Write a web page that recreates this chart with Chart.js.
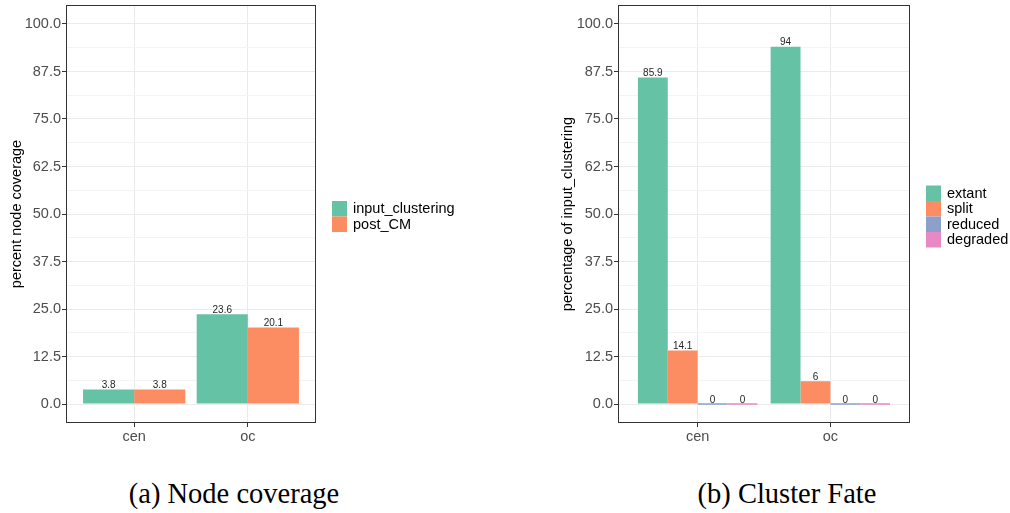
<!DOCTYPE html>
<html>
<head>
<meta charset="utf-8">
<script src="https://cdn.jsdelivr.net/npm/chart.js@4/dist/chart.umd.min.js"></script>
<style>
  body { margin: 0; background: #fff; }
  #wrap { position: relative; width: 1010px; height: 513px; background: #fff; overflow: hidden; }
  .box { position: absolute; top: 0; width: 505px; height: 460px; }
  .cap { position: absolute; top: 478px; width: 400px; text-align: center;
         font-family: "Liberation Serif", "Times New Roman", serif; font-size: 28.5px; line-height: 32px; color: #000; }
</style>
</head>
<body>
<div id="wrap">
  <div class="box" style="left:0"><canvas id="chart1" width="505" height="460"></canvas></div>
  <div class="box" style="left:505px"><canvas id="chart2" width="505" height="460"></canvas></div>
  <div class="cap" style="left:34px">(a) Node coverage</div>
  <div class="cap" style="left:587px">(b) Cluster Fate</div>
</div>
<script>
// data
const groups = ['cen', 'oc'];

const coverageNames = ['input_clustering', 'post_CM'];
const inputClustering = [3.8, 23.6];
const postCM = [3.8, 20.1];

const fateNames = ['extant', 'split', 'reduced', 'degraded'];
const extant = [85.9, 94];
const split = [14.1, 6];
const reduced = [0, 0];
const degraded = [0, 0];

const yBreaks = [0, 12.5, 25, 37.5, 50, 62.5, 75, 87.5, 100];

const set2 = ['#66C2A5', '#FC8D62', '#8DA0CB', '#E78AC3'];

Chart.defaults.font.family = '"Liberation Sans", Arial, sans-serif';

// major + minor (ggplot style) grid positions
var yGrid = [];
for (let i = 0; i < yBreaks.length; i++) {
  yGrid.push(yBreaks[i]);
  if (i < yBreaks.length - 1) yGrid.push((yBreaks[i] + yBreaks[i + 1]) / 2);
}

function isMajor(v) {
  return yBreaks.indexOf(v) >= 0;
}

const panelPlugin = {
  id: 'panel',
  afterDatasetsDraw(chart) {
    const ctx = chart.ctx;
    ctx.save();
    ctx.font = '10px "Liberation Sans", Arial, sans-serif';
    ctx.fillStyle = '#262626';
    ctx.textAlign = 'center';
    ctx.textBaseline = 'alphabetic';
    chart.data.datasets.forEach((ds, i) => {
      const meta = chart.getDatasetMeta(i);
      meta.data.forEach((bar, j) => {
        ctx.fillText(String(ds.data[j].y), bar.x, bar.y - 1.5);
      });
    });
    ctx.restore();
  },
  afterDraw(chart) {
    const ctx = chart.ctx;
    const a = chart.chartArea;
    ctx.save();
    ctx.strokeStyle = '#333333';
    ctx.lineWidth = 1;
    ctx.strokeRect(Math.round(a.left) + 0.5, Math.round(a.top) + 0.5,
      Math.round(a.right - a.left) - 1, Math.round(a.bottom - a.top) - 1);

    // legend on the right, like ggplot
    const ds = chart.data.datasets;
    const key = 15.5;
    const x0 = a.right + 16;
    const y0 = (a.top + a.bottom) / 2 + 2.5 - ds.length * key / 2;
    ctx.font = '14.5px "Liberation Sans", Arial, sans-serif';
    ctx.textAlign = 'left';
    ctx.textBaseline = 'middle';
    ds.forEach((d, i) => {
      ctx.fillStyle = d.backgroundColor;
      ctx.fillRect(x0, y0 + i * key, 15, key);
      ctx.fillStyle = '#000';
      ctx.fillText(d.label, x0 + 21, y0 + i * key + key / 2 + 0.5);
    });
    ctx.restore();
  }
};

function makeChart(id, names, series, yTitle, axisWidth, rightPad, titlePad) {
  const datasets = series.map((vals, i) => ({
    label: names[i],
    data: vals.map((v, j) => ({ x: j + 1, y: v })),
    backgroundColor: set2[i],
    borderWidth: 0,
    minBarLength: 1.5,
    categoryPercentage: 0.9,
    barPercentage: 1.0
  }));

  return new Chart(document.getElementById(id), {
    type: 'bar',
    data: { datasets: datasets },
    options: {
      responsive: false,
      animation: false,
      layout: { padding: { top: 5, right: rightPad, left: 0, bottom: 0 } },
      plugins: { legend: { display: false }, tooltip: { enabled: false } },
      scales: {
        x: {
          type: 'linear',
          min: 0.4,
          max: 2.6,
          offset: false,
          bounds: 'data',
          afterBuildTicks: s => { s.ticks = groups.map((g, i) => ({ value: i + 1 })); },
          afterFit: s => { s.height = 37; s.paddingLeft = 0; s.paddingRight = 0; },
          border: { display: false },
          grid: { offset: false, color: '#ebebeb', lineWidth: 1, tickLength: 4, tickColor: '#333333' },
          ticks: {
            autoSkip: false,
            maxRotation: 0,
            padding: 1,
            color: '#4d4d4d',
            font: { size: 14.5 },
            callback: v => groups[v - 1]
          }
        },
        y: {
          min: -5,
          max: 105,
          bounds: 'data',
          afterBuildTicks: s => { s.ticks = yGrid.map(v => ({ value: v })); },
          afterFit: s => { s.width = axisWidth; s.paddingTop = 0; s.paddingBottom = 0; },
          border: { display: false },
          grid: {
            color: c => (c.tick && isMajor(c.tick.value)) ? '#ebebeb' : '#f4f4f4',
            lineWidth: 1,
            tickLength: 4,
            tickColor: c => (c.tick && isMajor(c.tick.value)) ? '#333333' : 'rgba(0,0,0,0)'
          },
          ticks: {
            autoSkip: false,
            padding: 1,
            color: '#4d4d4d',
            font: { size: 14.5 },
            callback: v => isMajor(v) ? v.toFixed(1) : ''
          },
          title: {
            display: true,
            text: yTitle,
            color: '#000',
            font: { size: 14.5 },
            padding: { top: titlePad, bottom: 0 }
          }
        }
      }
    },
    plugins: [panelPlugin]
  });
}

makeChart('chart1', coverageNames, [inputClustering, postCM], 'percent node coverage', 66, 189, 8);
makeChart('chart2', fateNames, [extant, split, reduced, degraded], 'percentage of input_clustering', 113, 100, 54);
</script>
</body>
</html>
